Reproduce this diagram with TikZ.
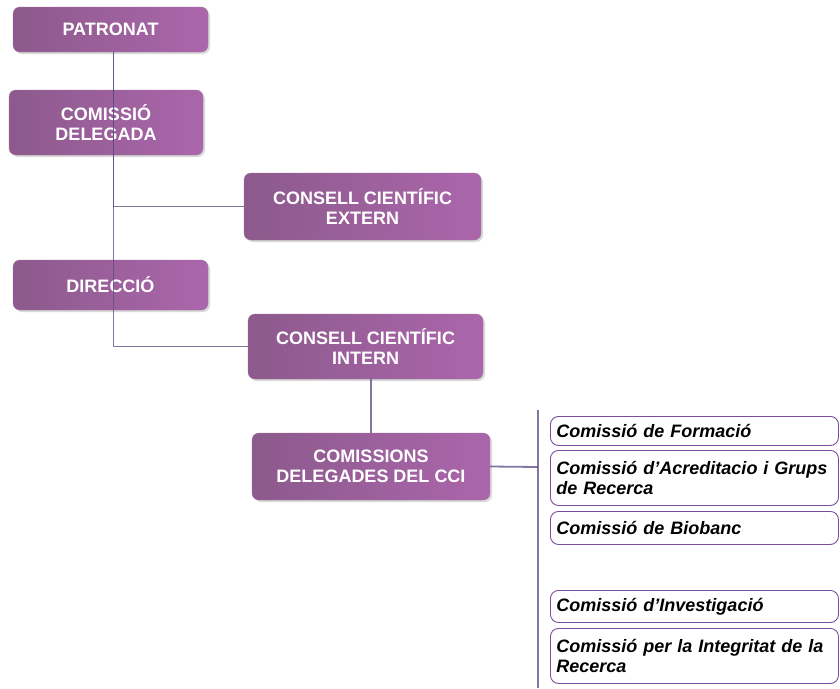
\documentclass[tikz,border=0pt]{standalone}
\usepackage{fontspec}
\setmainfont{Liberation Sans}
\usetikzlibrary{positioning, shadows}

\definecolor{orgdark}{HTML}{8C5A8C}
\definecolor{orglight}{HTML}{AB66AB}
\definecolor{linkline}{HTML}{5A4A82}
\definecolor{subborder}{HTML}{7A4E9E}

\tikzset{
	orgbox/.style={rectangle, rounded corners=7pt, left color=orgdark, right color=orglight,
		draw=orgdark!85, text=white, align=center, inner sep=2pt,
		font=\fontsize{18}{20}\selectfont\bfseries,
		drop shadow={shadow xshift=2pt, shadow yshift=-2pt, opacity=0.3}},
	subbox/.style={rectangle, rounded corners=8pt, draw=subborder, line width=0.9pt, fill=white,
		text width=276pt, align=left, inner xsep=6pt, inner ysep=2pt, anchor=north west,
		font=\fontsize{18}{20.5}\selectfont\bfseries\itshape},
	link/.style={draw=linkline, line width=1.8pt, opacity=0.75}
}

\begin{document}
\begin{tikzpicture}[x=1pt, y=-1pt]
	\useasboundingbox (0,0) rectangle (840,688);

	\node[orgbox, minimum width=195pt, minimum height=45pt] (patronat) at (110.5,29.5) {PATRONAT};
	\node[orgbox, minimum width=194pt, minimum height=65pt] (comdel) at (106,122.5) {COMISSIÓ\\DELEGADA};
	\node[orgbox, minimum width=237pt, minimum height=67pt] (extern) at (362.5,206.5) {CONSELL CIENTÍFIC\\EXTERN};
	\node[orgbox, minimum width=195pt, minimum height=50pt] (direccio) at (110.5,285) {DIRECCIÓ};
	\node[orgbox, minimum width=235pt, minimum height=65pt] (intern) at (365.5,346.5) {CONSELL CIENTÍFIC\\INTERN};
	\node[orgbox, minimum width=238pt, minimum height=67pt] (cci) at (371,466.5) {COMISSIONS\\DELEGADES DEL CCI};

	\node[subbox, minimum height=29pt] (formacio) at (550,416) {Comissió de Formació};
	\node[subbox, minimum height=55pt] (acredit) at (550,450) {Comissió d’Acreditacio i Grups de Recerca};
	\node[subbox, minimum height=33pt] (biobanc) at (550,511) {Comissió de Biobanc};
	\node[subbox, minimum height=32pt] (investig) at (550,590) {Comissió d’Investigació};
	\node[subbox, minimum height=55pt] (integrit) at (550,628) {Comissió per la Integritat de la Recerca};

	\coordinate (brk) at (538,467);
	\coordinate (brktop) at (538,410);
	\coordinate (brkbot) at (538,688);

	\draw[link] ([xshift=3pt]patronat.south) |- (extern.west);
	\draw[link] ([xshift=3pt]patronat.south) |- (intern.west);
	\draw[link] (cci.north) -- (cci.north |- intern.south);
	\draw[link] (cci.east) -- (brk);
	\draw[link] (brktop) -- (brkbot);
\end{tikzpicture}
\end{document}
